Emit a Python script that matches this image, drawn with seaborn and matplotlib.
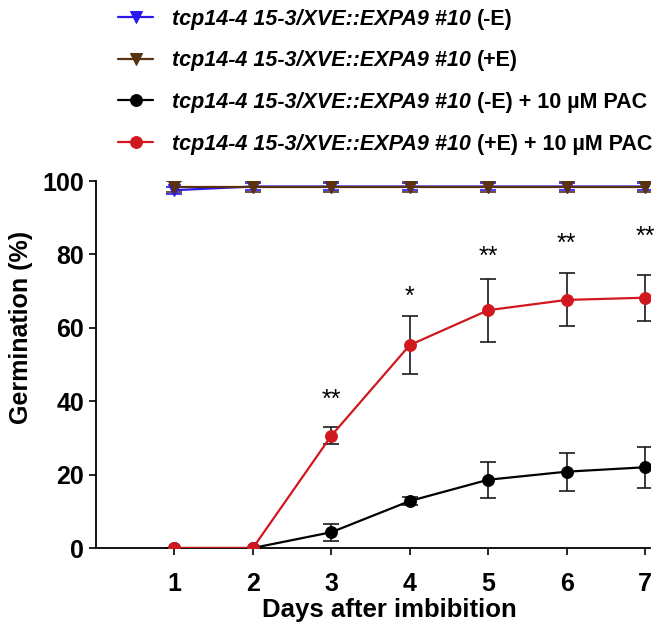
import numpy as np
import pandas as pd
import seaborn as sns
import matplotlib.pyplot as plt

days = [1, 2, 3, 4, 5, 6, 7]
genotype = "tcp14-4 15-3/XVE::EXPA9 #10"
series_names = ["(-E)", "(+E)", "(-E) + 10 \u00b5M PAC", "(+E) + 10 \u00b5M PAC"]
minus_e = [97.5, 98.5, 98.5, 98.5, 98.5, 98.5, 98.5]
minus_e_err = [1.0, 1.0, 1.0, 1.0, 1.0, 1.0, 1.0]
plus_e = [98.5, 98.5, 98.5, 98.5, 98.5, 98.5, 98.5]
plus_e_err = [1.5, 1.5, 1.5, 1.5, 1.5, 1.5, 1.5]
minus_e_pac = [0, 0, 4.3, 12.8, 18.6, 20.8, 22.0]
minus_e_pac_err = [0, 0, 2.3, 1.0, 4.9, 5.2, 5.6]
plus_e_pac = [0, 0, 30.6, 55.3, 64.8, 67.6, 68.2]
plus_e_pac_err = [0, 0, 2.3, 8.0, 8.6, 7.2, 6.3]
star_labels = ["", "", "**", "*", "**", "**", "**"]
star_y = [None, None, 42.2, 70.3, 81.2, 84.7, 86.6]

colors = ["#2a17f2", "#5a3210", "#000000", "#d0181e"]
markers = ["v", "v", "o", "o"]
values = [minus_e, plus_e, minus_e_pac, plus_e_pac]
errors = [minus_e_err, plus_e_err, minus_e_pac_err, plus_e_pac_err]

sns.set_style("ticks")
plt.rcParams["font.family"] = ["Liberation Sans", "DejaVu Sans"]
for key in ["text.color", "axes.labelcolor", "xtick.color", "ytick.color", "axes.edgecolor"]:
    plt.rcParams[key] = "black"

fig = plt.figure(figsize=(6.64, 6.32), dpi=100)
ax = fig.add_axes([0.1446, 0.1329, 0.834, 0.5807])

for name, vals, errs, col, mk in zip(series_names, values, errors, colors, markers):
    df = pd.DataFrame({"day": days, "germ": vals})
    ecol = col if col in ("#2a17f2", "#5a3210") else "#1a1a1a"
    ax.errorbar(days, vals, yerr=errs, fmt="none", ecolor=ecol, elinewidth=1.2,
                capsize=6, capthick=1.2, zorder=2)
    sns.lineplot(data=df, x="day", y="germ", ax=ax, color=col, marker=mk,
                 markersize=8.5, markeredgecolor=col, linewidth=1.6,
                 label=genotype, zorder=3)

# asterisk glyph sits ~3.8 units above its baseline at this size
for d, lab, yy in zip(days, star_labels, star_y):
    if lab:
        ax.text(d, yy - 3.8, lab, ha="center", va="baseline", fontsize=18)

ax.set_xlim(0, 7.06)
ax.set_ylim(0, 100)
ax.set_xticks(days)
ax.set_yticks([0, 20, 40, 60, 80, 100])
ax.tick_params(axis="both", labelsize=18, width=1.2, length=5, direction="out")
ax.tick_params(axis="x", pad=12)
for lab in ax.get_xticklabels() + ax.get_yticklabels():
    lab.set_fontweight("bold")
ax.set_xlabel("Days after imbibition", fontsize=18.5, fontweight="bold")
ax.set_ylabel("Germination (%)", fontsize=18, fontweight="bold")
ax.xaxis.set_label_coords(0.53, -0.137)
ax.yaxis.set_label_coords(-0.114, 0.60)
sns.despine(ax=ax)
for sp in ["left", "bottom"]:
    ax.spines[sp].set_linewidth(1.3)

handles, labels = ax.get_legend_handles_labels()
ax.get_legend().remove()
leg = fig.legend(handles, labels, loc="upper left", bbox_to_anchor=(0.149, 1.017),
                 frameon=False, handlelength=1.63, labelspacing=0.96,
                 handletextpad=0.88,
                 prop={"size": 15.5, "weight": "bold", "style": "italic"})

# append the plain bold treatment part after each italic genotype label
fig.canvas.draw()
inv = fig.transFigure.inverted()
for txt, name in zip(leg.get_texts(), series_names):
    bb = txt.get_window_extent()
    x0, y0 = inv.transform((bb.x1 + 6, (bb.y0 + bb.y1) / 2))
    fig.text(x0, y0, name, ha="left", va="center", fontsize=15.5, fontweight="bold")

fig.savefig("out.png", dpi=100)
